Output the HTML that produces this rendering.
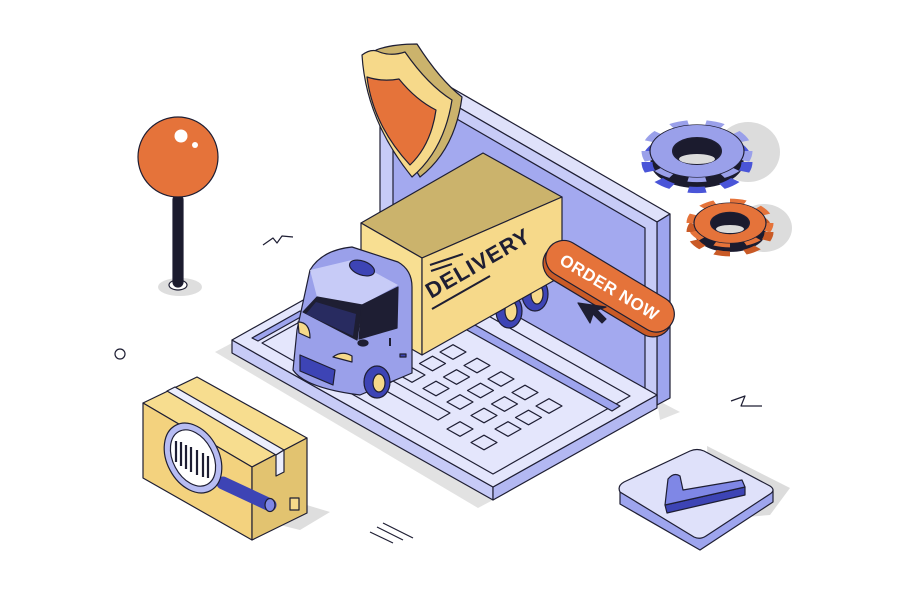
<!DOCTYPE html>
<html><head><meta charset="utf-8"><style>
html,body{margin:0;padding:0;background:#fff;}
svg{display:block;font-family:"Liberation Sans",sans-serif;}
</style></head><body>
<svg width="900" height="600" viewBox="0 0 900 600" xmlns="http://www.w3.org/2000/svg">
<g stroke="#1e1e33" stroke-width="1.2" stroke-linejoin="round">
<!-- decorative -->
<polyline points="263,245 273,238 277,243 282,236 293,237" fill="none"/>
<polyline points="731,401 745,396 741,406 762,406" fill="none"/>
<circle cx="120" cy="354" r="5" fill="none"/>
<line x1="370" y1="532" x2="393" y2="543"/>
<line x1="383" y1="523" x2="413" y2="538"/>
<line x1="377" y1="527" x2="403" y2="540"/>

<!-- pin -->
<ellipse cx="180" cy="287" rx="22" ry="9" fill="#dedede" stroke="none"/>
<ellipse cx="178" cy="285" rx="9" ry="5" fill="#fff"/>
<rect x="173" y="195" width="10" height="92" rx="5" fill="#1b1b2e"/>
<circle cx="178" cy="157" r="40" fill="#e5733a"/>
<circle cx="181" cy="136" r="6.5" fill="#fff" stroke="none"/>
<circle cx="195" cy="145" r="3" fill="#fff" stroke="none"/>

<!-- laptop shadow -->
<polygon points="215,352 232,343 493,500 478,508" fill="#e2e2e2" stroke="none"/>
<polygon points="657,400 680,412 660,420" fill="#e2e2e2" stroke="none"/>

<!-- screen -->
<polygon points="380,62 393,54 670,214 657,222" fill="#dfe1fa"/>
<polygon points="657,222 670,214 670,398 657,405" fill="#9ea5ee"/>
<polygon points="380,62 657,222 657,405 380,248" fill="#c7cbf7"/>
<polygon points="393,82 645,228 645,392 393,250" fill="#a3a9ef"/>

<!-- base -->
<polygon points="232,340 493,487 493,500 232,353" fill="#c7cbf7"/>
<polygon points="493,487 657,395 657,408 493,500" fill="#b3b8f2"/>
<polygon points="232,340 396,248 657,395 493,487" fill="#e4e6fc"/>
<polygon points="262,343 400,266 630,396 493,474" fill="none"/>
<polygon points="466,320 620,406 612,411 458,325" fill="#9ea5ee"/>
<polygon points="252,338 300,311 306,314 258,341" fill="#9ea5ee"/>
<!-- keys -->
<g fill="none">
<polygon points="440,352 453,344.7 466,352 453,359.3"/>
<polygon points="464,365.5 477,358.2 490,365.5 477,372.8"/>
<polygon points="488,379 501,371.7 514,379 501,386.3"/>
<polygon points="512,392.5 525,385.2 538,392.5 525,399.8"/>
<polygon points="536,406 549,398.7 562,406 549,413.3"/>
<polygon points="419.5,363.5 432.5,356.2 445.5,363.5 432.5,370.8"/>
<polygon points="443.5,377 456.5,369.7 469.5,377 456.5,384.3"/>
<polygon points="467.5,390.5 480.5,383.2 493.5,390.5 480.5,397.8"/>
<polygon points="491.5,404 504.5,396.7 517.5,404 504.5,411.3"/>
<polygon points="515.5,417.5 528.5,410.2 541.5,417.5 528.5,424.8"/>
<polygon points="399,375 412,367.7 425,375 412,382.3"/>
<polygon points="423,388.5 436,381.2 449,388.5 436,395.8"/>
<polygon points="447,402 460,394.7 473,402 460,409.3"/>
<polygon points="471,415.5 484,408.2 497,415.5 484,422.8"/>
<polygon points="495,429 508,421.7 521,429 508,436.3"/>
<polygon points="447,429 460,421.7 473,429 460,436.3"/>
<polygon points="471,442.5 484,435.2 497,442.5 484,449.8"/>
<polygon points="381,388 393,381 450,413 438,420"/>
</g>

<!-- shield -->
<path d="M376,50 Q392,44 417,44 Q440,80 462,97 Q455,150 420,177 Q390,130 376,50 Z" fill="#cbb36c"/>
<path d="M362,55 Q370,49 377,51 Q390,57 405,52 Q428,85 452,100 Q444,150 412,177 Q366,120 362,55 Z" fill="#f6d98a"/>
<path d="M367,77 Q382,82 399,79 Q416,100 436,110 Q431,145 410,165 Q373,125 367,77 Z" fill="#e5733a"/>

<!-- gears -->
<ellipse cx="748" cy="152" rx="32" ry="30" fill="#dcdcdc" stroke="none"/>
<ellipse cx="764" cy="228" rx="28" ry="24" fill="#dcdcdc" stroke="none"/>
<g transform="matrix(1,0,0,0.56,697,162)">
<circle r="46" fill="#1b1b2e"/>
<circle r="50" fill="none" stroke="#4a55d8" stroke-width="11" pathLength="90" stroke-dasharray="5 5"/>
</g>
<g transform="matrix(1,0,0,0.56,697,151)">
<circle r="50" fill="none" stroke="#9aa0ea" stroke-width="11" pathLength="90" stroke-dasharray="5 5"/>
<circle r="47" fill="#9aa0ea"/>
<circle r="24" fill="#1b1b2e" stroke-width="2"/>
</g>
<ellipse cx="697" cy="159" rx="18" ry="5" fill="#dcdcdc" stroke="none"/>
<g transform="matrix(1,0,0,0.56,730,232)">
<circle r="35" fill="#1b1b2e"/>
<circle r="39" fill="none" stroke="#c95a26" stroke-width="9" pathLength="80" stroke-dasharray="5 5"/>
</g>
<g transform="matrix(1,0,0,0.56,730,223)">
<circle r="39" fill="none" stroke="#e5733a" stroke-width="9" pathLength="80" stroke-dasharray="5 5"/>
<circle r="36" fill="#e5733a"/>
<circle r="19" fill="#1b1b2e" stroke-width="2"/>
</g>
<ellipse cx="730" cy="229" rx="14" ry="4" fill="#dcdcdc" stroke="none"/>

<!-- rear wheels -->
<ellipse cx="535" cy="294" rx="13" ry="17" fill="#3d44b5"/>
<ellipse cx="537" cy="294" rx="6" ry="10" fill="#f6d98a"/>
<ellipse cx="509" cy="311" rx="13" ry="17" fill="#3d44b5"/>
<ellipse cx="511" cy="311" rx="6" ry="10" fill="#f6d98a"/>

<!-- cargo box -->
<polygon points="361,223 483,153 562,197 422,258" fill="#cbb36c"/>
<polygon points="361,223 422,258 422,355 361,320" fill="#f8df92"/>
<polygon points="422,258 562,197 562,276 422,355" fill="#f6d98a"/>
<text transform="translate(431,299) rotate(-30)" font-size="22" font-weight="bold" fill="#1e1e33" stroke="none" letter-spacing="1">DELIVERY</text>
<line x1="430" y1="265" x2="463" y2="254" stroke-width="2"/>
<line x1="431" y1="271" x2="452" y2="264" stroke-width="2"/>
<line x1="432" y1="309" x2="490" y2="276" stroke-width="2"/>

<!-- cab -->
<path d="M310,270 Q322,250 352,247 L398,262 Q412,270 412,287 L412,373 L360,395 Q305,388 293,370 L297,330 Z" fill="#9aa0ea"/>
<path d="M310,270 L352,260 L398,285 L362,305 L317,297 Z" fill="#c7cbf7" stroke="none"/>
<polygon points="303,312 317,297 362,305 357,340" fill="#1e1e33"/>
<polygon points="362,305 398,287 397,328 359,339" fill="#1e1e33"/>
<polygon points="306,314 316,302 356,314 353,336" fill="#3d44b5" stroke="none" opacity="0.35"/>
<ellipse cx="362" cy="268" rx="13" ry="7" transform="rotate(20 362 268)" fill="#3d44b5"/>
<path d="M298,322 Q310,322 310,338 L299,333 Z" fill="#f6d98a"/>
<path d="M333,357 Q342,350 352,356 L352,362 Z" fill="#f6d98a"/>
<polygon points="300,355 335,370 333,385 300,371" fill="#3d44b5"/>
<ellipse cx="363" cy="343" rx="5" ry="3" fill="#1e1e33"/>
<line x1="390" y1="338" x2="390" y2="346" stroke-width="2"/>
<rect x="400" y="354" width="6" height="3" fill="#3d44b5"/>
<ellipse cx="377" cy="382" rx="13" ry="16" fill="#3d44b5"/>
<ellipse cx="379" cy="383" rx="6" ry="9" fill="#f6d98a"/>

<!-- order now button -->
<g transform="translate(609,288) rotate(31)">
<rect x="-72" y="-16" width="144" height="38" rx="19" fill="#c95a26"/>
<rect x="-72" y="-20" width="144" height="36" rx="18" fill="#e5733a"/>
<text x="0" y="5" text-anchor="middle" font-size="17" font-weight="bold" fill="#fff" stroke="none" letter-spacing="0.5">ORDER NOW</text>
</g>
<polygon points="578,303 590,323 593,314 602,323 606,319 597,310 606,307" fill="#1e1e33"/>

<!-- package box -->
<polygon points="300,503 330,512 300,530 280,525" fill="#dedede" stroke="none"/>
<polygon points="143,403 197,377 307,438 252,467" fill="#f7dd8f"/>
<polygon points="143,403 252,467 252,540 143,478" fill="#f3d27e"/>
<polygon points="252,467 307,438 307,513 252,540" fill="#e2c370"/>
<polygon points="167,391 175,387 284,450 276,455" fill="#eceefd"/>
<polygon points="276,455 284,450 284,472 276,476" fill="#eceefd"/>
<rect x="290" y="498" width="9" height="12" fill="#f6d98a"/>
<line x1="223" y1="483" x2="270" y2="505" stroke="#3d44b5" stroke-width="13" stroke-linecap="round"/>
<ellipse cx="270" cy="505" rx="5" ry="6.5" fill="#7f87e6"/>
<ellipse cx="193" cy="458" rx="26" ry="37" transform="rotate(-28 193 458)" fill="#b7bcf2"/>
<ellipse cx="193" cy="458" rx="20" ry="30" transform="rotate(-28 193 458)" fill="#fff"/>
<g stroke="#1e1e33" stroke-width="2.2">
<line x1="176" y1="441" x2="176" y2="462"/>
<line x1="181" y1="442" x2="181" y2="466"/>
<line x1="186" y1="445" x2="186" y2="469"/>
<line x1="191" y1="447" x2="191" y2="472"/>
<line x1="197" y1="450" x2="197" y2="475"/>
<line x1="203" y1="453" x2="203" y2="477"/>
<line x1="208" y1="456" x2="208" y2="478"/>
</g>

<!-- check badge -->
<polygon points="707,446 790,488 770,515 710,520" fill="#dcdcdc" stroke="none"/>
<polygon points="620,492 700,538 773,490 773,502 700,550 620,504" fill="#9ea5ee"/>
<path d="M620,492 Q617,486 624,482 L690,451 Q697,448 704,451 L770,486 Q776,490 770,494 L706,536 Q700,540 694,537 Z" fill="#dfe1fa"/>
<polygon points="665,505 745,487 745,495 667,513" fill="#3d44b5"/>
<path d="M668,479 Q674,472 680,476 L683,490 L742,480 L745,487 L665,505 Z" fill="#7f87e6"/>
</g>
</svg>
</body></html>
